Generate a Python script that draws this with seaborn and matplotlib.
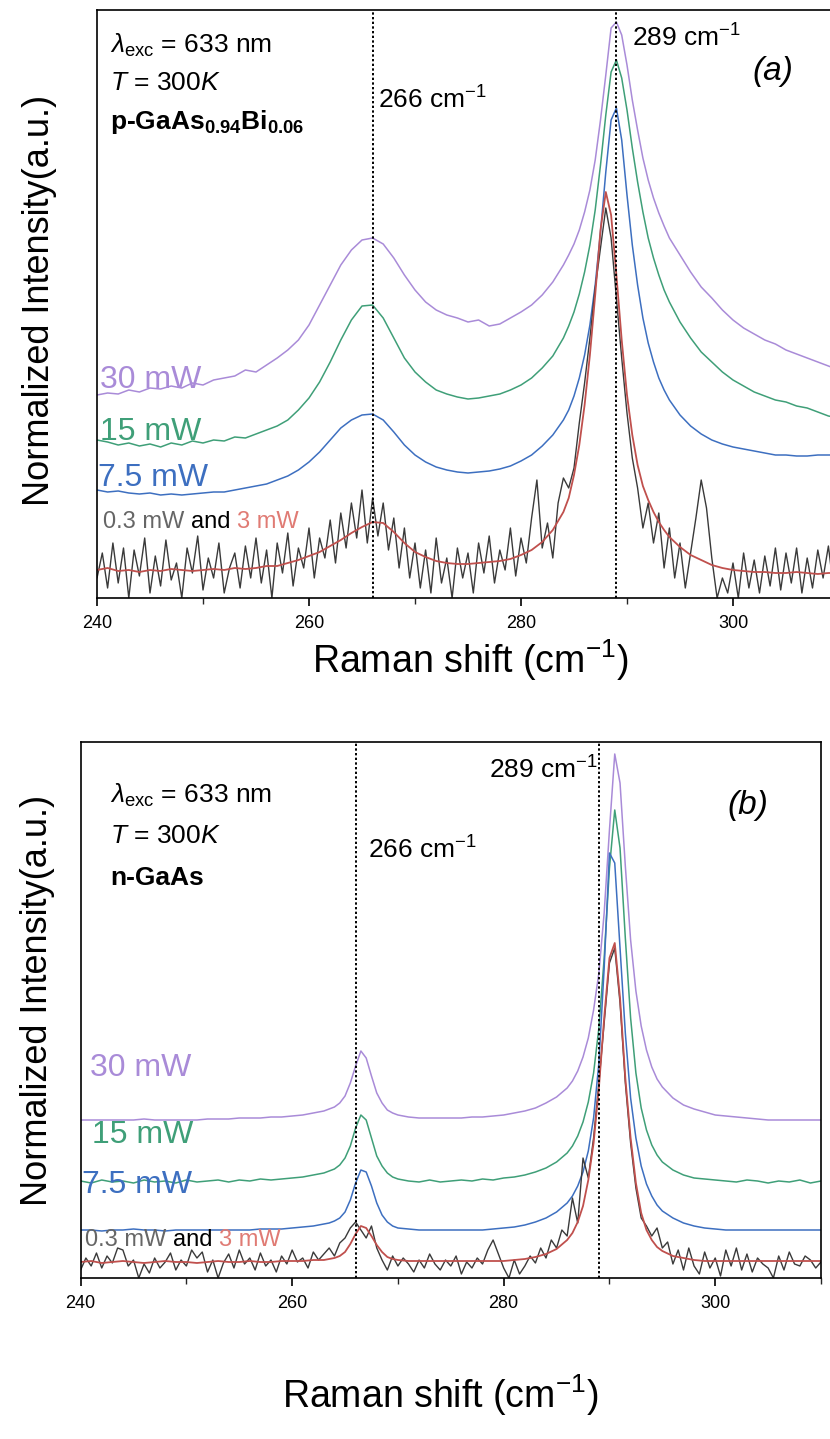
import matplotlib
matplotlib.use("Agg")
import matplotlib.pyplot as plt
from matplotlib.ticker import MultipleLocator
import seaborn as sns

# Raman spectra (intensity in a.u.)

# panel (a): p-GaAs0.94Bi0.06
xa = [240, 241, 242, 243, 244, 245, 246, 247, 248, 249,
      250, 251, 252, 253, 254, 255, 256, 257, 258, 259,
      260, 261, 262, 263, 264, 265, 266, 267, 268, 269,
      270, 271, 272, 273, 274, 275, 276, 277, 278, 279,
      280, 281, 282, 283, 284,
      284.5, 285, 285.5, 286, 286.5, 287, 287.5, 288, 288.5, 289,
      289.5, 290, 290.5, 291, 291.5, 292, 292.5, 293, 293.5,
      294, 295, 296, 297, 298, 299, 300, 301, 302, 303, 304, 305, 306, 307, 308, 309, 310]

a_30mw = [203, 205, 204, 208, 206, 210, 209, 212, 210, 215,
          213, 218, 220, 222, 228, 226, 233, 240, 248, 258,
          273, 293, 313, 333, 348, 358, 360, 354, 340, 323,
          308, 296, 288, 283, 280, 276, 278, 272, 274, 280,
          286, 293, 303, 316, 333,
          343, 354, 368, 386, 408, 438, 478, 523, 570, 576,
          563, 533, 498, 468, 440, 418, 400, 385, 372,
          360, 343, 326, 311, 300, 288, 278, 270, 264, 258, 254, 248, 244, 240, 236, 232, 228]

a_15mw = [158, 156, 153, 155, 152, 154, 151, 155, 153, 157,
          155, 158, 157, 161, 160, 164, 168, 172, 178, 188,
          200, 216, 236, 258, 278, 292, 293, 280, 260, 240,
          226, 216, 208, 204, 201, 199, 200, 202, 204, 208,
          213, 220, 230, 242, 260,
          272, 286, 304, 326, 353, 388, 433, 483, 526, 538,
          520, 488, 450, 416, 386, 360, 340, 323, 308,
          296, 276, 260, 246, 236, 226, 218, 212, 206, 202, 198, 196, 192, 190, 186, 182, 180]

a_7mw = [108, 106, 107, 105, 104, 105, 103, 104, 103, 104,
         105, 106, 106, 108, 110, 112, 114, 118, 122, 128,
         136, 146, 158, 170, 178, 183, 184, 178, 166, 153,
         143, 136, 131, 128, 126, 125, 126, 127, 129, 132,
         137, 143, 152, 163, 178,
         188, 202, 220, 243, 273, 313, 366, 426, 478, 490,
         458, 403, 353, 313, 280, 255, 236, 220, 208,
         198, 183, 172, 164, 158, 154, 151, 149, 147, 145, 143, 143, 142, 142, 143, 143, 143]

a_3mw = [28, 30, 27, 28, 26, 28, 27, 29, 28, 27,
         28, 29, 28, 30, 29, 30, 32, 32, 35, 38,
         42, 46, 52, 58, 65, 71, 76, 75, 66, 55,
         46, 41, 37, 35, 34, 34, 35, 36, 37, 39,
         43, 48, 56, 68, 86,
         100, 123, 153, 193, 243, 303, 368, 406, 383, 323,
         258, 203, 163, 133, 112, 98, 86, 76, 68,
         61, 51, 43, 38, 33, 30, 28, 27, 26, 26, 25, 25, 26, 25, 24, 25, 25]

# 0.3 mW spectrum, sampled every 0.5 cm-1 from 240 to 310
xa_fine = [240, 240.5, 241, 241.5, 242, 242.5, 243, 243.5, 244, 244.5,
           245, 245.5, 246, 246.5, 247, 247.5, 248, 248.5, 249, 249.5,
           250, 250.5, 251, 251.5, 252, 252.5, 253, 253.5, 254, 254.5,
           255, 255.5, 256, 256.5, 257, 257.5, 258, 258.5, 259, 259.5,
           260, 260.5, 261, 261.5, 262, 262.5, 263, 263.5, 264, 264.5,
           265, 265.5, 266, 266.5, 267, 267.5, 268, 268.5, 269, 269.5,
           270, 270.5, 271, 271.5, 272, 272.5, 273, 273.5, 274, 274.5,
           275, 275.5, 276, 276.5, 277, 277.5, 278, 278.5, 279, 279.5,
           280, 280.5, 281, 281.5, 282, 282.5, 283, 283.5, 284, 284.5,
           285, 285.5, 286, 286.5, 287, 287.5, 288, 288.5, 289, 289.5,
           290, 290.5, 291, 291.5, 292, 292.5, 293, 293.5, 294, 294.5,
           295, 295.5, 296, 296.5, 297, 297.5, 298, 298.5, 299, 299.5,
           300, 300.5, 301, 301.5, 302, 302.5, 303, 303.5, 304, 304.5,
           305, 305.5, 306, 306.5, 307, 307.5, 308, 308.5, 309, 309.5,
           310]

a_03mw = [20, 45, 10, 55, 15, 50, 0, 48, 22, 60,
          5, 42, 12, 58, 18, 35, 0, 50, 25, 62,
          8, 40, 20, 55, 5, 30, 45, 10, 52, 20,
          60, 15, 48, 0, 55, 25, 65, 12, 50, 30,
          70, 20, 60, 40, 78, 35, 85, 50, 95, 60,
          108, 55, 100, 62, 95, 48, 80, 30, 70, 20,
          55, 10, 48, 5, 60, 15, 40, 0, 50, 20,
          45, 5, 55, 25, 62, 15, 48, 28, 70, 22,
          60, 35, 80, 118, 50, 75, 40, 95, 120, 110,
          130, 175, 215, 260, 310, 350, 390, 360, 300, 240,
          185, 140, 110, 70, 95, 55, 85, 30, 70, 20,
          55, 10, 45, 80, 118, 90, 40, 0, 20, 5,
          35, 0, 45, 10, 38, 5, 42, 12, 50, 8,
          45, 15, 50, 5, 40, 10, 48, 20, 52, 8,
          45]

# panel (b): n-GaAs
xb = [240, 241, 242, 243, 244, 245, 246, 247, 248, 249, 250, 251,
      252, 253, 254, 255, 256, 257, 258, 259, 260, 261, 262, 263,
      263.5, 264, 264.5, 265, 265.5, 266, 266.5, 267, 267.5, 268, 268.5, 269, 269.5, 270,
      271, 272, 273, 274, 275, 276, 277, 278, 279, 280, 281, 282, 283, 284, 285, 286,
      286.5, 287, 287.5, 288, 288.5, 289, 289.5, 290, 290.5, 291, 291.5, 292, 292.5,
      293, 293.5, 294, 294.5, 295,
      296, 297, 298, 299, 300, 301, 302, 303, 304, 305, 306, 307, 308, 309, 310]

b_30mw = [158, 158, 158, 158, 158, 158, 159, 158, 158, 158, 158, 158,
          159, 159, 159, 160, 160, 160, 161, 161, 162, 163, 165, 167,
          169, 171, 175, 182, 195, 212, 227, 220, 202, 185, 175, 168, 165, 163,
          161, 160, 160, 160, 160, 160, 161, 161, 162, 163, 165, 167, 170, 175, 181, 190,
          197, 207, 221, 240, 268, 305, 365, 448, 524, 495, 412, 338, 287,
          252, 228, 211, 199, 191,
          180, 173, 169, 166, 163, 162, 161, 160, 159, 158, 158, 158, 158, 158, 158]

b_15mw = [97, 95, 98, 96, 97, 95, 98, 96, 97, 95, 98, 96,
          97, 98, 96, 98, 97, 99, 98, 99, 100, 101, 103, 105,
          107, 109, 113, 120, 132, 150, 163, 158, 140, 122, 112, 105, 101, 99,
          97, 96, 98, 96, 97, 98, 97, 99, 98, 100, 101, 103, 106, 110, 116, 125,
          132, 142, 156, 176, 205, 250, 320, 410, 468, 430, 340, 260, 205,
          170, 148, 133, 123, 116,
          108, 103, 100, 99, 98, 97, 96, 98, 97, 95, 97, 96, 98, 95, 97]

b_7mw = [48, 48, 47, 48, 48, 49, 48, 48, 47, 48, 48, 48,
         48, 48, 48, 48, 48, 49, 49, 49, 50, 51, 52, 54,
         55, 57, 60, 66, 78, 95, 108, 106, 92, 75, 63, 56, 52, 50,
         49, 48, 48, 48, 48, 48, 48, 48, 49, 50, 51, 53, 56, 60, 66, 75,
         82, 92, 106, 127, 160, 215, 310, 425, 415, 330, 245, 180, 140,
         112, 94, 82, 73, 67,
         60, 55, 52, 50, 49, 48, 48, 48, 48, 48, 48, 48, 48, 48, 48]

b_3mw = [16, 17, 15, 16, 17, 16, 15, 16, 17, 16, 16, 15,
         16, 17, 16, 16, 17, 16, 16, 17, 17, 17, 18, 18,
         19, 20, 22, 26, 34, 44, 52, 50, 42, 33, 26, 21, 19, 18,
         17, 17, 17, 17, 17, 17, 17, 17, 17, 17, 18, 19, 21, 24, 29, 38,
         45, 56, 72, 98, 135, 190, 260, 320, 335, 280, 200, 140, 95,
         65, 48, 38, 31, 27,
         22, 20, 18, 17, 17, 17, 17, 17, 17, 17, 17, 17, 17, 17, 17]

b_03mw = [8, 20, 12, 25, 10, 22, 15, 30, 28, 12,
          18, 0, 14, 5, 20, 10, 16, 25, 8, 18,
          12, 28, 20, 26, 6, 18, 0, 15, 24, 10,
          28, 14, 20, 8, 25, 12, 18, 6, 22, 14,
          28, 16, 20, 10, 26, 18, 24, 30, 22, 35,
          40, 50, 56, 48, 40, 52, 30, 18, 8, 22,
          12, 20, 14, 6, 18, 10, 24, 14, 8, 18,
          12, 22, 4, 16, 10, 20, 14, 28, 38, 24,
          10, 0, 18, 4, 12, 22, 15, 30, 20, 38,
          30, 48, 42, 80, 55, 120, 100, 140, 195, 255,
          315, 330, 275, 195, 135, 90, 60, 52, 42, 50,
          30, 36, 14, 28, 8, 30, 12, 4, 26, 10,
          20, 2, 28, 12, 30, 8, 24, 6, 20, 14,
          10, 0, 22, 8, 26, 14, 12, 22, 18, 10,
          16]

peak_lines = [266, 289]
xticks = [240, 260, 280, 300]

c_30 = '#a98bd8'
c_15 = '#3f9f78'
c_7 = '#3d6fc0'
c_3 = '#c0504d'
c_03 = '#3a3a3a'

sns.set_theme(style="white")
plt.rcParams['font.family'] = ['Liberation Sans', 'DejaVu Sans']
plt.rcParams['text.color'] = 'black'
plt.rcParams['mathtext.fontset'] = 'custom'
plt.rcParams['mathtext.rm'] = 'Liberation Sans'
plt.rcParams['mathtext.it'] = 'Liberation Sans:italic'
plt.rcParams['mathtext.bf'] = 'Liberation Sans:bold'

W, H = 830, 1439
fig = plt.figure(figsize=(W / 100, H / 100), dpi=100)

# axes boxes in pixels: left, top, right, bottom
ax_a = fig.add_axes([97 / W, 1 - 598 / H, (839 - 97) / W, 588 / H])
ax_b = fig.add_axes([80.6 / W, 1 - 1278 / H, (821 - 80.6) / W, 536 / H])


def draw_spectra(ax, x, x_fine, s30, s15, s7, s3, s03, ymax):
    sns.lineplot(x=x, y=s30, ax=ax, color=c_30, lw=1.1)
    sns.lineplot(x=x, y=s15, ax=ax, color=c_15, lw=1.1)
    sns.lineplot(x=x, y=s7, ax=ax, color=c_7, lw=1.1)
    sns.lineplot(x=x_fine, y=s03, ax=ax, color=c_03, lw=1.0)
    sns.lineplot(x=x, y=s3, ax=ax, color=c_3, lw=1.3)
    for xl in peak_lines:
        ax.axvline(xl, color='black', lw=1.4, ls=(0, (1.2, 1.2)))
    ax.set_xlim(240, 310)
    ax.set_ylim(0, ymax)
    ax.set_yticks([])
    ax.set_xticks(xticks)
    ax.xaxis.set_minor_locator(MultipleLocator(10))
    ax.tick_params(axis='x', which='major', direction='out', length=6, width=1.2,
                   bottom=True, labelsize=13, pad=6, colors='black')
    ax.tick_params(axis='x', which='minor', direction='out', length=4, width=1.0,
                   bottom=True)
    ax.set_xlabel('')
    ax.set_ylabel('')
    for sp in ax.spines.values():
        sp.set_color('black')
        sp.set_linewidth(1.2)


def power_labels(ax, pos30, pos15, pos7, pos03):
    ax.text(*pos30, '30 mW', color=c_30, fontsize=23, transform=ax.transAxes, va='center')
    ax.text(*pos15, '15 mW', color=c_15, fontsize=23, transform=ax.transAxes, va='center')
    ax.text(*pos7, '7.5 mW', color=c_7, fontsize=23, transform=ax.transAxes, va='center')
    t1 = ax.text(*pos03, '0.3 mW ', color='#666666', fontsize=17,
                 transform=ax.transAxes, va='center')
    t2 = ax.annotate('and ', xy=(1, 0), xycoords=t1, va='bottom', fontsize=17, color='black')
    ax.annotate('3 mW', xy=(1, 0), xycoords=t2, va='bottom', fontsize=17, color='#e07b74')


def info_block(ax, x0, ys, sample):
    ax.text(x0, ys[0], r'$\lambda_{\rm exc}$ = 633 nm', fontsize=19, transform=ax.transAxes, va='center')
    ax.text(x0, ys[1], r'$T$ = 300$K$', fontsize=19, transform=ax.transAxes, va='center')
    ax.text(x0, ys[2], sample, fontsize=19, fontweight='bold', transform=ax.transAxes, va='center')


# panel (a)
draw_spectra(ax_a, xa, xa_fine, a_30mw, a_15mw, a_7mw, a_3mw, a_03mw, 588)
info_block(ax_a, 0.017, [0.94, 0.876, 0.81],
           r'p-GaAs$_{\mathbf{0.94}}$Bi$_{\mathbf{0.06}}$')
ax_a.text(0.379, 0.847, r'266 cm$^{-1}$', fontsize=19, transform=ax_a.transAxes, va='center')
ax_a.text(0.721, 0.952, r'289 cm$^{-1}$', fontsize=19, transform=ax_a.transAxes, va='center')
ax_a.text(0.883, 0.895, '(a)', fontsize=24, style='italic', transform=ax_a.transAxes, va='center')
power_labels(ax_a, (0.004, 0.371), (0.004, 0.282), (0.0013, 0.204), (0.008, 0.129))

# panel (b)
draw_spectra(ax_b, xb, xa_fine, b_30mw, b_15mw, b_7mw, b_3mw, b_03mw, 536)
info_block(ax_b, 0.04, [0.901, 0.825, 0.746], 'n-GaAs')
ax_b.text(0.388, 0.799, r'266 cm$^{-1}$', fontsize=19, transform=ax_b.transAxes, va='center')
ax_b.text(0.699, 0.948, r'289 cm$^{-1}$', fontsize=19, transform=ax_b.transAxes,
          va='center', ha='right')
ax_b.text(0.874, 0.882, '(b)', fontsize=24, style='italic', transform=ax_b.transAxes, va='center')
power_labels(ax_b, (0.0127, 0.392), (0.015, 0.267), (0.002, 0.1735), (0.006, 0.071))

# axis titles
for xc, yc in [(40, 300), (38, 1000)]:
    fig.text(xc / W, 1 - yc / H, 'Normalized Intensity(a.u.)', rotation=90,
             fontsize=26, ha='center', va='center')
for xc, yc in [(470, 660), (440, 1395)]:
    fig.text(xc / W, 1 - yc / H, r'Raman shift (cm$^{-1}$)', fontsize=27,
             ha='center', va='center')

fig.savefig('out.png', dpi=100)
